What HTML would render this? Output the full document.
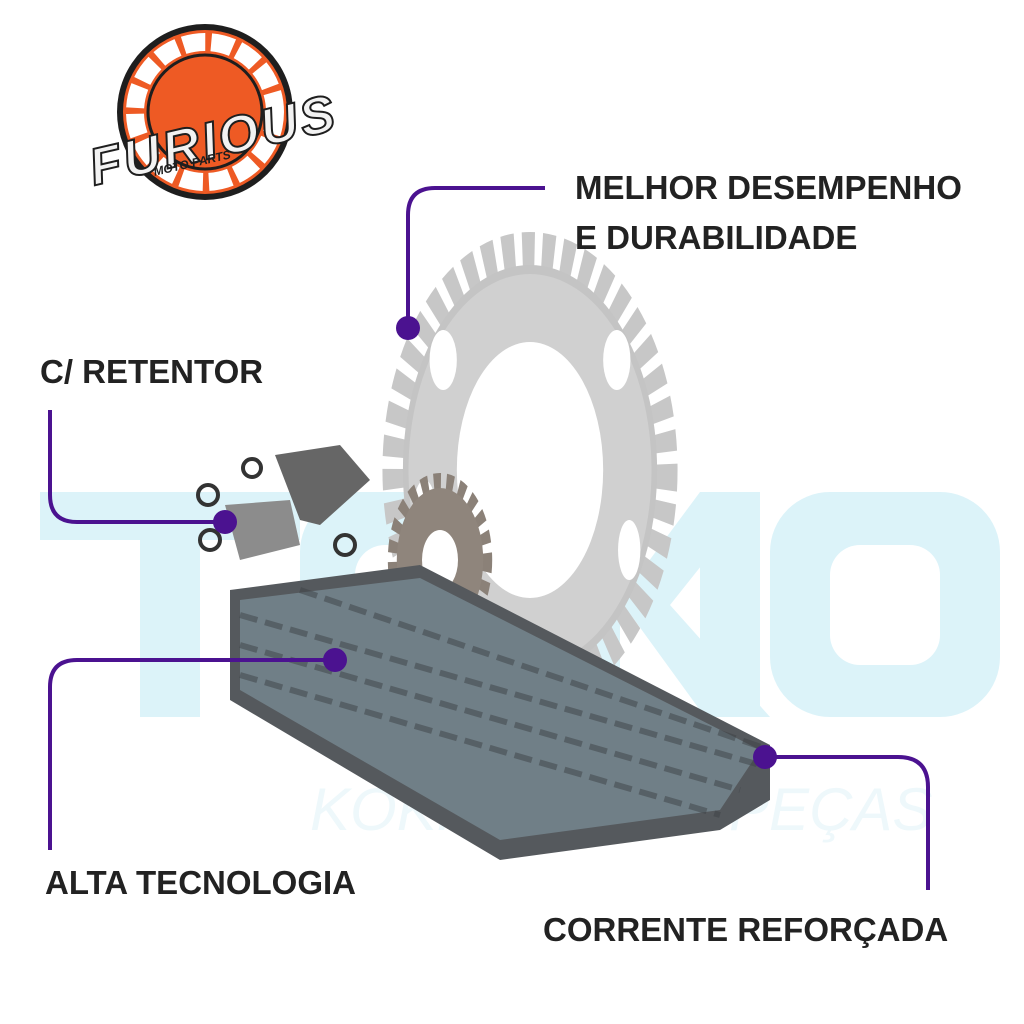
<!DOCTYPE html>
<html><head><meta charset="utf-8"><style>
html,body{margin:0;padding:0;background:#fff;}
.w{position:relative;width:1024px;height:1024px;overflow:hidden;font-family:"Liberation Sans",sans-serif;}
.t{position:absolute;font-weight:bold;color:#222;font-size:33px;letter-spacing:0;line-height:1.5;white-space:nowrap;}
</style></head><body><div class="w">
<svg width="1024" height="1024" style="position:absolute;left:0;top:0">
<g fill="#dcf3f9">
<rect x="40" y="492" width="260" height="48"/>
<rect x="140" y="492" width="60" height="225"/>
<rect x="300" y="492" width="200" height="225" rx="60"/>
<rect x="560" y="492" width="60" height="225"/>
<polygon points="620,600 700,492 760,492 670,605 770,717 705,717"/>
<rect x="700" y="492" width="60" height="225"/>
<rect x="770" y="492" width="230" height="225" rx="60"/>
</g>
<rect x="830" y="545" width="110" height="120" rx="30" fill="#fff"/>
<rect x="355" y="545" width="90" height="120" rx="30" fill="#fff"/>
<text x="310" y="830" font-family="Liberation Sans" font-style="italic" font-size="60" fill="#eef8fb">KOKKAI MOTOPEÇAS</text>
<!-- logo -->
<circle cx="205" cy="112" r="88" fill="#1e1e1e"/>
<circle cx="205" cy="112" r="82" fill="#ee5a24"/>
<circle cx="205" cy="112" r="70" fill="none" stroke="#fff" stroke-width="18" stroke-dasharray="22 6"/>
<circle cx="205" cy="112" r="57" fill="#ee5a24" stroke="#1e1e1e" stroke-width="3"/>
<text x="82" y="160" font-family="Liberation Sans" font-weight="bold" font-style="italic" font-size="52" fill="#f2f2f2" stroke="#1e1e1e" stroke-width="2" transform="rotate(-13 200 120)" textLength="250">FURIOUS</text>
<text x="150" y="165" font-family="Liberation Sans" font-weight="bold" font-style="italic" font-size="12" fill="#1e1e1e" transform="rotate(-13 200 150)">MOTO PARTS</text>
<!-- big sprocket -->
<g transform="translate(530,470) scale(0.62,1)">
<circle r="220" fill="none" stroke="#c7c7c7" stroke-width="36" stroke-dasharray="20 12"/>
<circle r="205" fill="#c4c4c4"/>
<circle r="196" fill="#d0d0d0"/>
<ellipse cx="0" cy="0" rx="118" ry="128" fill="#fff"/>
<ellipse cx="-140" cy="-110" rx="22" ry="30" fill="#fff"/>
<ellipse cx="140" cy="-110" rx="22" ry="30" fill="#fff"/>
<ellipse cx="-170" cy="40" rx="18" ry="30" fill="#fff"/>
<ellipse cx="160" cy="80" rx="18" ry="30" fill="#fff"/>
</g>
<!-- small sprocket -->
<g transform="translate(440,560) scale(0.6,1)">
<circle r="78" fill="none" stroke="#8b8178" stroke-width="18" stroke-dasharray="12 9"/>
<circle r="72" fill="#8f857c"/>
<circle r="30" fill="#fff"/>
</g>
<!-- chain -->
<polygon points="230,590 420,565 770,745 770,800 720,830 500,860 230,700" fill="#55595d"/>
<polygon points="240,600 420,578 760,750 720,810 500,840 240,690" fill="#75868e" opacity="0.85"/>
<g stroke="#3e4347" stroke-width="6" fill="none" opacity="0.5" stroke-dasharray="18 8">
<line x1="240" y1="615" x2="760" y2="765"/><line x1="240" y1="645" x2="740" y2="790"/>
<line x1="240" y1="675" x2="720" y2="815"/><line x1="300" y1="590" x2="770" y2="750"/>
</g>
<!-- master link -->
<g fill="none" stroke="#333" stroke-width="4">
<circle cx="252" cy="468" r="9"/><circle cx="208" cy="495" r="10"/><circle cx="210" cy="540" r="10"/><circle cx="345" cy="545" r="10"/>
</g>
<polygon points="225,505 290,500 300,545 240,560" fill="#8c8c8c"/>
<polygon points="275,455 340,445 370,480 320,525 300,520" fill="#666"/>
<g fill="none" stroke="#4b1290" stroke-width="4">
<path d="M545,188 H435 Q408,188 408,215 V328"/>
<path d="M50,410 V495 Q50,522 77,522 H225"/>
<path d="M50,850 V687 Q50,660 77,660 H335"/>
<path d="M765,757 H898 Q928,757 928,787 V890"/>
</g>
<g fill="#4b1290">
<circle cx="408" cy="328" r="12"/><circle cx="225" cy="522" r="12"/><circle cx="335" cy="660" r="12"/><circle cx="765" cy="757" r="12"/>
</g>
</svg>
<div class="t" style="left:575px;top:163px">MELHOR DESEMPENHO</div>
<div class="t" style="left:575px;top:213px">E DURABILIDADE</div>
<div class="t" style="left:40px;top:347px">C/ RETENTOR</div>
<div class="t" style="left:45px;top:858px">ALTA TECNOLOGIA</div>
<div class="t" style="left:543px;top:905px">CORRENTE REFORÇADA</div>
</div></body></html>
